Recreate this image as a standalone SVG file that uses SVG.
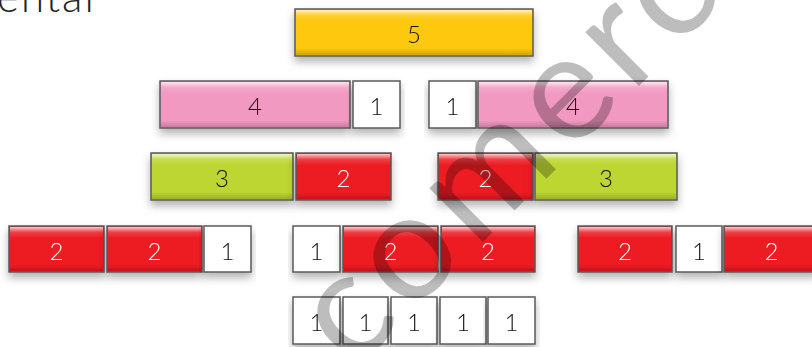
<svg xmlns="http://www.w3.org/2000/svg" width="812" height="347" viewBox="0 0 812 347">
<style>
.b{stroke:#5a5a5a;stroke-width:1.5}
.y{fill:#fdc80d}.p{fill:#f299c2}.g{fill:#bdd630}.r{fill:#ed1c24}.w{fill:#ffffff}
.gl{fill:url(#gloss);stroke:none}
.t{font-family:"Lato","Open Sans","DejaVu Sans",sans-serif;font-weight:300;font-size:24px;text-anchor:middle;fill:#111}
.tw{fill:#ffffff}
.bx{filter:url(#sh)}
</style>
<defs>
<filter id="sh" x="-10%" y="-30%" width="120%" height="180%">
<feDropShadow dx="0" dy="5" stdDeviation="4" flood-color="#000" flood-opacity="0.3"/>
</filter>
<linearGradient id="gloss" x1="0" y1="0" x2="0" y2="1">
<stop offset="0" stop-color="#fff" stop-opacity="0.75"/>
<stop offset="0.12" stop-color="#fff" stop-opacity="0.15"/>
<stop offset="0.25" stop-color="#fff" stop-opacity="0"/>
<stop offset="0.85" stop-color="#000" stop-opacity="0"/>
<stop offset="1" stop-color="#000" stop-opacity="0.18"/>
</linearGradient>
</defs>
<rect width="812" height="347" fill="#ffffff"/>
<text x="-3" y="12" font-family="Lato,'Open Sans',sans-serif" font-weight="300" font-size="42" letter-spacing="2" fill="#222">ental</text>

<g id="r1-5" class="bx"><rect class="b y" x="295" y="9" width="238" height="47"/><rect class="gl" x="296" y="10" width="236" height="45"/><text class="t" x="414" y="43">5</text></g>

<g id="r2-4a" class="bx"><rect class="b p" x="160" y="81" width="190" height="47"/><rect class="gl" x="161" y="82" width="188" height="45"/><text class="t" x="255" y="115">4</text></g>
<g id="r2-1a" class="bx"><rect class="b w" x="353" y="81" width="47" height="47"/><text class="t" x="376.5" y="115">1</text></g>
<g id="r2-1b" class="bx"><rect class="b w" x="429" y="81" width="47" height="47"/><text class="t" x="452.5" y="115">1</text></g>
<g id="r2-4b" class="bx"><rect class="b p" x="478" y="81" width="190" height="47"/><rect class="gl" x="479" y="82" width="188" height="45"/><text class="t" x="573" y="115">4</text></g>

<g id="r3-3a" class="bx"><rect class="b g" x="151" y="153" width="142" height="47"/><rect class="gl" x="152" y="154" width="140" height="45"/><text class="t" x="222" y="187">3</text></g>
<g id="r3-2a" class="bx"><rect class="b r" x="296" y="153" width="95" height="47"/><rect class="gl" x="297" y="154" width="93" height="45"/><text class="t tw" x="343.5" y="187">2</text></g>
<g id="r3-2b" class="bx"><rect class="b r" x="438" y="153" width="95" height="47"/><rect class="gl" x="439" y="154" width="93" height="45"/><text class="t tw" x="485.5" y="187">2</text></g>
<g id="r3-3b" class="bx"><rect class="b g" x="535" y="153" width="142" height="47"/><rect class="gl" x="536" y="154" width="140" height="45"/><text class="t" x="606" y="187">3</text></g>

<g id="r4-2a" class="bx"><rect class="b r" x="9" y="226" width="95" height="46"/><rect class="gl" x="10" y="227" width="93" height="44"/><text class="t tw" x="56.5" y="260">2</text></g>
<g id="r4-2b" class="bx"><rect class="b r" x="107" y="226" width="95" height="46"/><rect class="gl" x="108" y="227" width="93" height="44"/><text class="t tw" x="154.5" y="260">2</text></g>
<g id="r4-1a" class="bx"><rect class="b w" x="204" y="226" width="47" height="46"/><text class="t" x="227.5" y="260">1</text></g>
<g id="r4-1b" class="bx"><rect class="b w" x="293" y="226" width="47" height="46"/><text class="t" x="316.5" y="260">1</text></g>
<g id="r4-2c" class="bx"><rect class="b r" x="343" y="226" width="95" height="46"/><rect class="gl" x="344" y="227" width="93" height="44"/><text class="t tw" x="390.5" y="260">2</text></g>
<g id="r4-2d" class="bx"><rect class="b r" x="441" y="226" width="94" height="46"/><rect class="gl" x="442" y="227" width="92" height="44"/><text class="t tw" x="488" y="260">2</text></g>
<g id="r4-2e" class="bx"><rect class="b r" x="578" y="226" width="94" height="46"/><rect class="gl" x="579" y="227" width="92" height="44"/><text class="t tw" x="625" y="260">2</text></g>
<g id="r4-1c" class="bx"><rect class="b w" x="676" y="226" width="46" height="46"/><text class="t" x="699" y="260">1</text></g>
<g id="r4-2f" class="bx"><rect class="b r" x="724" y="226" width="95" height="46"/><rect class="gl" x="725" y="227" width="93" height="44"/><text class="t tw" x="771.5" y="260">2</text></g>

<g id="r5-1a" class="bx"><rect class="b w" x="293" y="297" width="47" height="47"/><text class="t" x="316.5" y="331">1</text></g>
<g id="r5-1b" class="bx"><rect class="b w" x="343" y="297" width="45" height="47"/><text class="t" x="365.5" y="331">1</text></g>
<g id="r5-1c" class="bx"><rect class="b w" x="391" y="297" width="46" height="47"/><text class="t" x="414" y="331">1</text></g>
<g id="r5-1d" class="bx"><rect class="b w" x="440" y="297" width="46" height="47"/><text class="t" x="463" y="331">1</text></g>
<g id="r5-1e" class="bx"><rect class="b w" x="488" y="297" width="47" height="47"/><text class="t" x="511.5" y="331">1</text></g>

<text x="353" y="372" transform="rotate(-45 353 372)" font-family="Lato,'Open Sans',sans-serif" font-weight="400" font-size="150" letter-spacing="9" fill="#000" fill-opacity="0.26">comercial</text>
</svg>
